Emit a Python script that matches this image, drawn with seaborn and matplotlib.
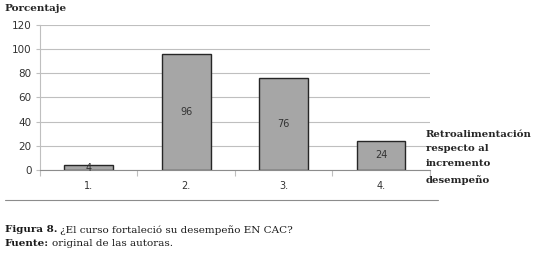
import seaborn as sns
import matplotlib.pyplot as plt
import pandas as pd

# Data
categorias = ["1.", "2.", "3.", "4."]
porcentajes = [4, 96, 76, 24]

df = pd.DataFrame({"cat": categorias, "pct": porcentajes})

sns.set_style("white")
fig = plt.figure(figsize=(5.4, 2.54), dpi=100)
ax = fig.add_axes([0.074, 0.331, 0.722, 0.571])

sns.barplot(x="cat", y="pct", data=df, color="#a6a6a6", edgecolor="#262626",
            linewidth=1.0, width=0.5, saturation=1, ax=ax)

# Grid and axes
ax.set_ylim(0, 120)
ax.set_xlim(-0.5, 3.5)
ax.set_yticks(range(0, 121, 20))
ax.yaxis.grid(True, color="#bfbfbf", linewidth=0.8)
ax.set_axisbelow(True)
for s in ["top", "right"]:
    ax.spines[s].set_visible(False)
ax.spines["left"].set_color("#bfbfbf")
ax.spines["bottom"].set_color("#8c8c8c")

# x ticks at category boundaries, labels at centers
ax.set_xticks([-0.5, 0.5, 1.5, 2.5, 3.5])
ax.set_xticklabels([])
ax.set_xticks(range(len(categorias)), minor=True)
ax.set_xticklabels(categorias, minor=True)
ax.tick_params(axis="x", which="major", length=4, color="#bfbfbf", direction="out", bottom=True)
ax.tick_params(axis="x", which="minor", length=0, pad=8, labelsize=7, labelcolor="#333333")
ax.tick_params(axis="y", length=3, color="#bfbfbf", left=True, labelsize=7.5, labelcolor="#333333", pad=3)
ax.set_xlabel("")
ax.set_ylabel("")

# value labels at bar center
for i, v in enumerate(porcentajes):
    ax.text(i, v / 2, str(v), ha="center", va="center", fontsize=7, color="#333333")

serif = "DejaVu Serif"
fig.text(0.009, 0.985, "Porcentaje", fontsize=7.5, fontweight="bold", family=serif,
         va="top", color="#262626")
fig.text(0.789, 0.49, "Retroalimentación\nrespecto al\nincremento\ndesempeño",
         fontsize=7.3, fontweight="bold", family=serif, va="top", color="#262626",
         linespacing=1.85)

# separator line
fig.add_artist(plt.Line2D([0.009, 0.811], [0.213, 0.213], color="#8c8c8c", linewidth=0.8))

# caption with bold prefix
renderer = fig.canvas.get_renderer()
t1 = fig.text(0.009, 0.095, "Figura 8.", fontsize=7.5, fontweight="bold", family=serif,
              va="center", color="#1a1a1a")
bb = t1.get_window_extent(renderer=renderer)
x2 = (bb.x1 + 3) / fig.bbox.width
fig.text(x2, 0.095, "¿El curso fortaleció su desempeño EN CAC?", fontsize=7.5, family=serif,
         va="center", color="#1a1a1a")
t3 = fig.text(0.009, 0.04, "Fuente:", fontsize=7.5, fontweight="bold", family=serif,
              va="center", color="#1a1a1a")
bb = t3.get_window_extent(renderer=renderer)
x4 = (bb.x1 + 3) / fig.bbox.width
fig.text(x4, 0.04, "original de las autoras.", fontsize=7.5, family=serif,
         va="center", color="#1a1a1a")

plt.savefig("out.png", dpi=100)
